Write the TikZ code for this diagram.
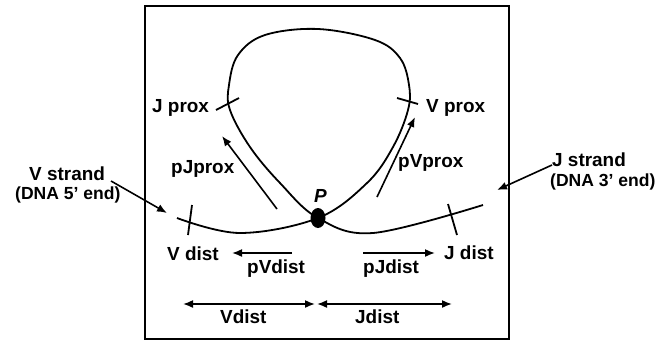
\documentclass[tikz,border=0pt]{standalone}
\usepackage{fontspec}
\setmainfont{Liberation Sans}
\usetikzlibrary{arrows.meta, shapes.geometric}

\tikzset{
  lbl/.style={font=\fontsize{19}{22}\selectfont\bfseries, inner sep=0pt, anchor=base west},
  small/.style={font=\fontsize{17.6}{20}\selectfont\bfseries},
  arr/.style={line width=1.6bp, -{Latex[length=10bp,width=8bp]}},
  dblarr/.style={line width=1.6bp, {Latex[length=10bp,width=8bp]}-{Latex[length=10bp,width=8bp]}},
  strand/.style={line width=1.8bp},
}

\begin{document}
\begin{tikzpicture}[x=1bp, y=-1bp]
\useasboundingbox (0,0) rectangle (661,342);
\draw[line width=1.5bp] (145,6) rectangle (509,339);

\draw[strand] plot[smooth, tension=0.6] coordinates {(177,218) (240,233) (318,218) (367,183) (393,147) (408,110) (409,85) (400,58) (375,40) (318,29) (265,35) (238,55) (229,85) (230,110) (250,147) (280,183) (318,218) (373,233) (483,205)};
\node[ellipse, fill, minimum width=15bp, minimum height=20bp, inner sep=0pt] (P) at (318,218) {};
\node[lbl, font=\fontsize{19}{22}\selectfont\bfseries\itshape] (plbl) at (314,202) {P};

\coordinate (jpa) at (216,110);
\coordinate (jpb) at (239,98);
\coordinate (vpa) at (397,98);
\coordinate (vpb) at (418,104);
\coordinate (vda) at (192,205);
\coordinate (vdb) at (188,235);
\coordinate (jda) at (448,204);
\coordinate (jdb) at (457,235);
\draw[strand] (jpa)--(jpb);
\draw[strand] (vpa)--(vpb);
\draw[strand] (vda)--(vdb);
\draw[strand] (jda)--(jdb);

\node[lbl] (jprox) at (152,112) {J prox};
\node[lbl] (vprox) at (426,112) {V prox};
\node[lbl] (pjprox) at (171,173) {pJprox};
\node[lbl] (pvprox) at (398,167) {pVprox};
\node[lbl] (vstrand) at (29,180) {V strand};
\node[lbl, small] (vdna) at (15,199) {(DNA 5' end)};
\node[lbl] (jstrand) at (552,166) {J strand};
\node[lbl, small] (jdna) at (550,186) {(DNA 3' end)};
\node[lbl] (vdist) at (167,260) {V dist};
\node[lbl] (jdist) at (444,259) {J dist};
\node[lbl] (pvdist) at (247,273) {pVdist};
\node[lbl] (pjdist) at (363,273) {pJdist};
\node[lbl] (vdistlen) at (220,323) {Vdist};
\node[lbl] (jdistlen) at (355,323) {Jdist};

\coordinate (vs1) at (111,181);
\coordinate (vs2) at (167,213);
\coordinate (js1) at (552,165);
\coordinate (js2) at (497,190);
\coordinate (pj1) at (277,209);
\coordinate (pj2) at (222,136);
\coordinate (pv1) at (377,197);
\coordinate (pv2) at (415,117);
\coordinate (pvd1) at (292,253);
\coordinate (pvd2) at (232,253);
\coordinate (pjd1) at (363,253);
\coordinate (pjd2) at (435,253);
\coordinate (vl1) at (183,304);
\coordinate (vl2) at (315,304);
\coordinate (jl1) at (317,304);
\coordinate (jl2) at (452,304);
\draw[arr] (vs1)--(vs2);
\draw[arr] (js1)--(js2);
\draw[arr] (pj1)--(pj2);
\draw[arr] (pv1)--(pv2);
\draw[arr] (pvd1)--(pvd2);
\draw[arr] (pjd1)--(pjd2);
\draw[dblarr] (vl1)--(vl2);
\draw[dblarr] (jl1)--(jl2);
\end{tikzpicture}
\end{document}
